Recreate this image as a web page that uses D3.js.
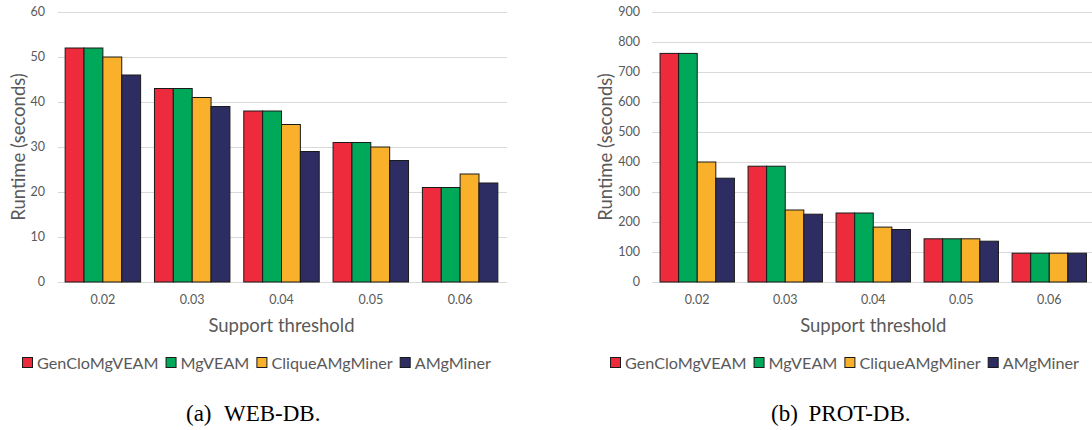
<!DOCTYPE html>
<html>
<head>
<meta charset="utf-8">
<script src="https://cdn.jsdelivr.net/npm/d3@7/dist/d3.min.js"></script>
<style>
  html, body { margin: 0; padding: 0; background: #fff; }
  svg { display: block; }
  .tick-label { font-family: Lato, "Open Sans", sans-serif; fill: #595959; }
  .axis-title { font-family: Lato, "Open Sans", sans-serif; fill: #595959; }
  .legend-text { font-family: Lato, "Open Sans", sans-serif; fill: #595959; }
  .caption { font-family: "Liberation Serif", "Times New Roman", serif; fill: #000; }
</style>
</head>
<body>
<svg id="fig" width="1092" height="430"></svg>
<script>
// Support thresholds on the x axis
const thresholds = ["0.02", "0.03", "0.04", "0.05", "0.06"];

// Algorithms compared
const seriesNames = ["GenCloMgVEAM", "MgVEAM", "CliqueAMgMiner", "AMgMiner"];

// Runtime (seconds) on WEB-DB
const webGenCloMgVEAM   = [52, 43, 38, 31, 21];
const webMgVEAM         = [52, 43, 38, 31, 21];
const webCliqueAMgMiner = [50, 41, 35, 30, 24];
const webAMgMiner       = [46, 39, 29, 27, 22];
const webTicks = [0, 10, 20, 30, 40, 50, 60];

// Runtime (seconds) on PROT-DB
const protGenCloMgVEAM   = [762, 386, 230, 144, 96];
const protMgVEAM         = [762, 386, 230, 144, 96];
const protCliqueAMgMiner = [400, 240, 183, 144, 96];
const protAMgMiner       = [346, 226, 175, 136, 96];
const protTicks = [0, 100, 200, 300, 400, 500, 600, 700, 800, 900];

// Fill colour for each algorithm
const seriesColors = ["#EE2B3D", "#00A859", "#F9B02B", "#2E2D63"];

const svg = d3.select("#fig");

function drawPanel(opts) {
  const { left, right, top, bottom, series, ticks, gridLeft, gridRight,
          legendX, capLabel, capName, capLabelX, capNameX } = opts;

  const g = svg.append("g");

  const x0 = d3.scaleBand()
    .domain(thresholds)
    .range([left, right])
    .paddingInner(0.155)
    .paddingOuter(0.08);

  const x1 = d3.scaleBand()
    .domain(seriesNames)
    .range([0, x0.bandwidth()])
    .padding(0);

  const y = d3.scaleLinear()
    .domain([0, d3.max(ticks)])
    .range([bottom, top]);

  // horizontal gridlines
  g.append("g")
    .selectAll("line")
    .data(ticks)
    .join("line")
    .attr("x1", gridLeft)
    .attr("x2", gridRight)
    .attr("y1", d => Math.round(y(d)) + 0.5)
    .attr("y2", d => Math.round(y(d)) + 0.5)
    .attr("stroke", "#D9D9D9")
    .attr("stroke-width", 1.2);

  // y tick labels
  g.append("g")
    .selectAll("text")
    .data(ticks)
    .join("text")
    .attr("class", "tick-label")
    .attr("x", left - 13)
    .attr("y", d => y(d))
    .attr("dy", "0.35em")
    .attr("text-anchor", "end")
    .attr("font-size", 12.5)
    .text(d => d);

  // grouped bars
  const rows = thresholds.map((t, i) => ({
    t,
    values: series.map((s, k) => ({ name: seriesNames[k], v: s[i], k }))
  }));

  g.append("g")
    .selectAll("g")
    .data(rows)
    .join("g")
    .attr("transform", d => `translate(${x0(d.t)},0)`)
    .selectAll("rect")
    .data(d => d.values)
    .join("rect")
    .attr("x", d => x1(d.name))
    .attr("y", d => y(d.v))
    .attr("width", x1.bandwidth())
    .attr("height", d => y(0) - y(d.v))
    .attr("fill", d => seriesColors[d.k])
    .attr("stroke", "#1A1A1A")
    .attr("stroke-width", 1);

  // x tick labels
  g.append("g")
    .selectAll("text")
    .data(thresholds)
    .join("text")
    .attr("class", "tick-label")
    .attr("x", d => x0(d) + x0.bandwidth() / 2)
    .attr("y", bottom + 22)
    .attr("text-anchor", "middle")
    .attr("font-size", 12.5)
    .text(d => d);

  // axis titles
  g.append("text")
    .attr("class", "axis-title")
    .attr("x", (left + right) / 2)
    .attr("y", bottom + 49.5)
    .attr("text-anchor", "middle")
    .attr("font-size", 18.5)
    .text("Support threshold");

  g.append("text")
    .attr("class", "axis-title")
    .attr("transform", `translate(${opts.yTitleX},${(top + bottom) / 2}) rotate(-90)`)
    .attr("dy", "0.35em")
    .attr("text-anchor", "middle")
    .attr("font-size", 18.5)
    .text("Runtime (seconds)");

  // legend, laid out left to right
  const lg = g.append("g");
  let cx = legendX;
  seriesNames.forEach((name, k) => {
    lg.append("rect")
      .attr("x", cx + 0.5)
      .attr("y", 357.5)
      .attr("width", 10)
      .attr("height", 10)
      .attr("fill", seriesColors[k])
      .attr("stroke", "#1A1A1A")
      .attr("stroke-width", 1);
    const t = lg.append("text")
      .attr("class", "legend-text")
      .attr("x", cx + 15)
      .attr("y", 368.5)
      .attr("font-size", 16.2)
      .text(name);
    cx += 15 + t.node().getComputedTextLength() + 7;
  });

  // sub-figure caption
  g.append("text")
    .attr("class", "caption")
    .attr("x", capLabelX)
    .attr("y", 421)
    .attr("font-size", 23)
    .text(capLabel);
  g.append("text")
    .attr("class", "caption")
    .attr("x", capNameX)
    .attr("y", 421)
    .attr("font-size", 23)
    .text(capName);
}

drawPanel({
  left: 58, right: 505, top: 12, bottom: 282,
  gridLeft: 58, gridRight: 507,
  yTitleX: 19,
  series: [webGenCloMgVEAM, webMgVEAM, webCliqueAMgMiner, webAMgMiner],
  ticks: webTicks,
  legendX: 22,
  capLabel: "(a)", capName: "WEB-DB.", capLabelX: 186, capNameX: 224
});

drawPanel({
  left: 653, right: 1093.5, top: 12, bottom: 282,
  gridLeft: 652, gridRight: 1092,
  yTitleX: 606,
  series: [protGenCloMgVEAM, protMgVEAM, protCliqueAMgMiner, protAMgMiner],
  ticks: protTicks,
  legendX: 610,
  capLabel: "(b)", capName: "PROT-DB.", capLabelX: 771, capNameX: 808.5
});
</script>
</body>
</html>
